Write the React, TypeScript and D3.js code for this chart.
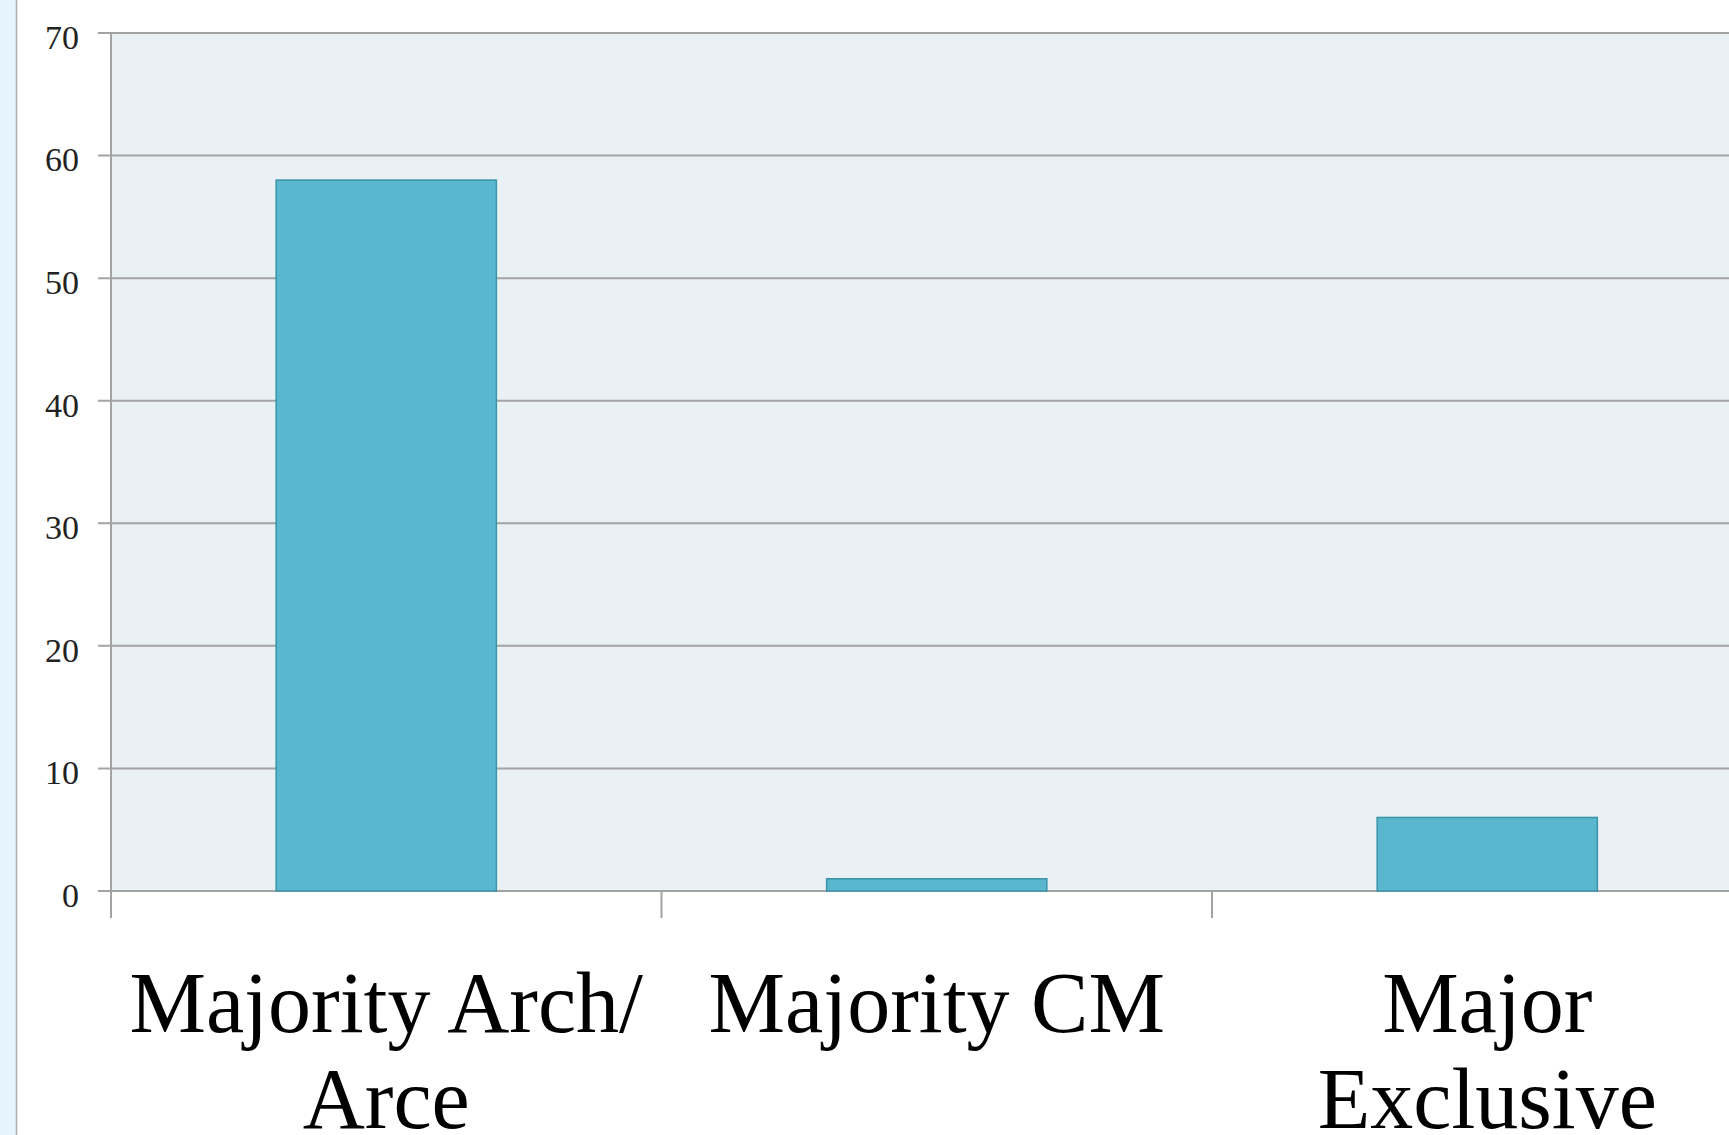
import * as d3 from "d3";
import { useEffect, useRef } from "react";

// chart data
const categories = ["Majority Arch/ Arce", "Majority CM", "Major Exclusive"];
const categoryLines = [["Majority Arch/", "Arce"], ["Majority CM"], ["Major", "Exclusive"]];
const counts = [58, 1, 6];
const yTicks = [0, 10, 20, 30, 40, 50, 60, 70];

const W = 1729;
const H = 1135;

const App = () => {
  const svgRef = useRef<SVGSVGElement>(null);

  useEffect(() => {
    document.body.style.margin = "0";
    document.body.style.overflow = "hidden";

    const svg = d3.select(svgRef.current);
    svg.selectAll("*").remove();

    // plot area
    const left = 111;
    const top = 33;
    const bottom = 891;
    const step = 550.5;

    const x = d3
      .scaleBand()
      .domain(categories)
      .range([left, left + step * categories.length])
      .padding(0);

    const y = d3.scaleLinear().domain([0, 70]).range([bottom, top]);

    // light blue strip on the left edge
    svg.append("rect").attr("x", 0).attr("y", 0).attr("width", 16).attr("height", H).attr("fill", "#e6f5fd");
    svg
      .append("line")
      .attr("x1", 16.5)
      .attr("x2", 16.5)
      .attr("y1", 0)
      .attr("y2", H)
      .attr("stroke", "#a9b0b4")
      .attr("stroke-width", 1.5);

    // plot background
    svg
      .append("rect")
      .attr("x", left)
      .attr("y", top)
      .attr("width", step * categories.length)
      .attr("height", bottom - top)
      .attr("fill", "#e9f1f5");

    // horizontal gridlines (they start at the tick mark)
    svg
      .selectAll(".grid")
      .data(yTicks)
      .enter()
      .append("line")
      .attr("class", "grid")
      .attr("x1", left - 13)
      .attr("x2", left + step * categories.length)
      .attr("y1", (d) => y(d))
      .attr("y2", (d) => y(d))
      .attr("stroke", "#a3a3a3")
      .attr("stroke-width", 2);

    // y axis labels
    svg
      .selectAll(".ylab")
      .data(yTicks)
      .enter()
      .append("text")
      .attr("class", "ylab")
      .attr("x", 79)
      .attr("y", (d) => y(d) + 4)
      .attr("dy", "0.35em")
      .attr("text-anchor", "end")
      .attr("font-family", "'Liberation Serif', serif")
      .attr("font-size", 34)
      .attr("fill", "#222")
      .text((d) => d);

    // vertical axis line
    svg
      .append("line")
      .attr("x1", left)
      .attr("x2", left)
      .attr("y1", top)
      .attr("y2", bottom)
      .attr("stroke", "#a3a3a3")
      .attr("stroke-width", 2);

    // x tick marks at band edges
    const edges = categories.map((c) => x(c));
    svg
      .selectAll(".xtick")
      .data(edges)
      .enter()
      .append("line")
      .attr("class", "xtick")
      .attr("x1", (d) => d)
      .attr("x2", (d) => d)
      .attr("y1", bottom)
      .attr("y2", bottom + 27)
      .attr("stroke", "#a3a3a3")
      .attr("stroke-width", 2);

    // bars
    const barW = x.bandwidth() * 0.4;
    svg
      .selectAll(".bar")
      .data(counts)
      .enter()
      .append("rect")
      .attr("class", "bar")
      .attr("x", (d, i) => x(categories[i]) + (x.bandwidth() - barW) / 2)
      .attr("y", (d) => y(d))
      .attr("width", barW)
      .attr("height", (d) => bottom - y(d))
      .attr("fill", "#5bb7ce")
      .attr("stroke", "#3b93a8")
      .attr("stroke-width", 1.5);

    // category labels, wrapped like the original
    const labels = svg
      .selectAll(".xlab")
      .data(categoryLines)
      .enter()
      .append("text")
      .attr("class", "xlab")
      .attr("text-anchor", "middle")
      .attr("font-family", "'Liberation Serif', serif")
      .attr("font-size", 86)
      .attr("fill", "#000");

    labels
      .selectAll("tspan")
      .data((d, i) => d.map((line) => ({ line, i })))
      .enter()
      .append("tspan")
      .attr("x", (d) => x(categories[d.i]) + x.bandwidth() / 2)
      .attr("y", (d, j) => 1032 + j * 96)
      .text((d) => d.line);
  }, []);

  return (
    <svg
      ref={svgRef}
      width={W}
      height={H}
      style={{ position: "absolute", left: 0, top: 0, background: "#fff" }}
    />
  );
};

export default App;
